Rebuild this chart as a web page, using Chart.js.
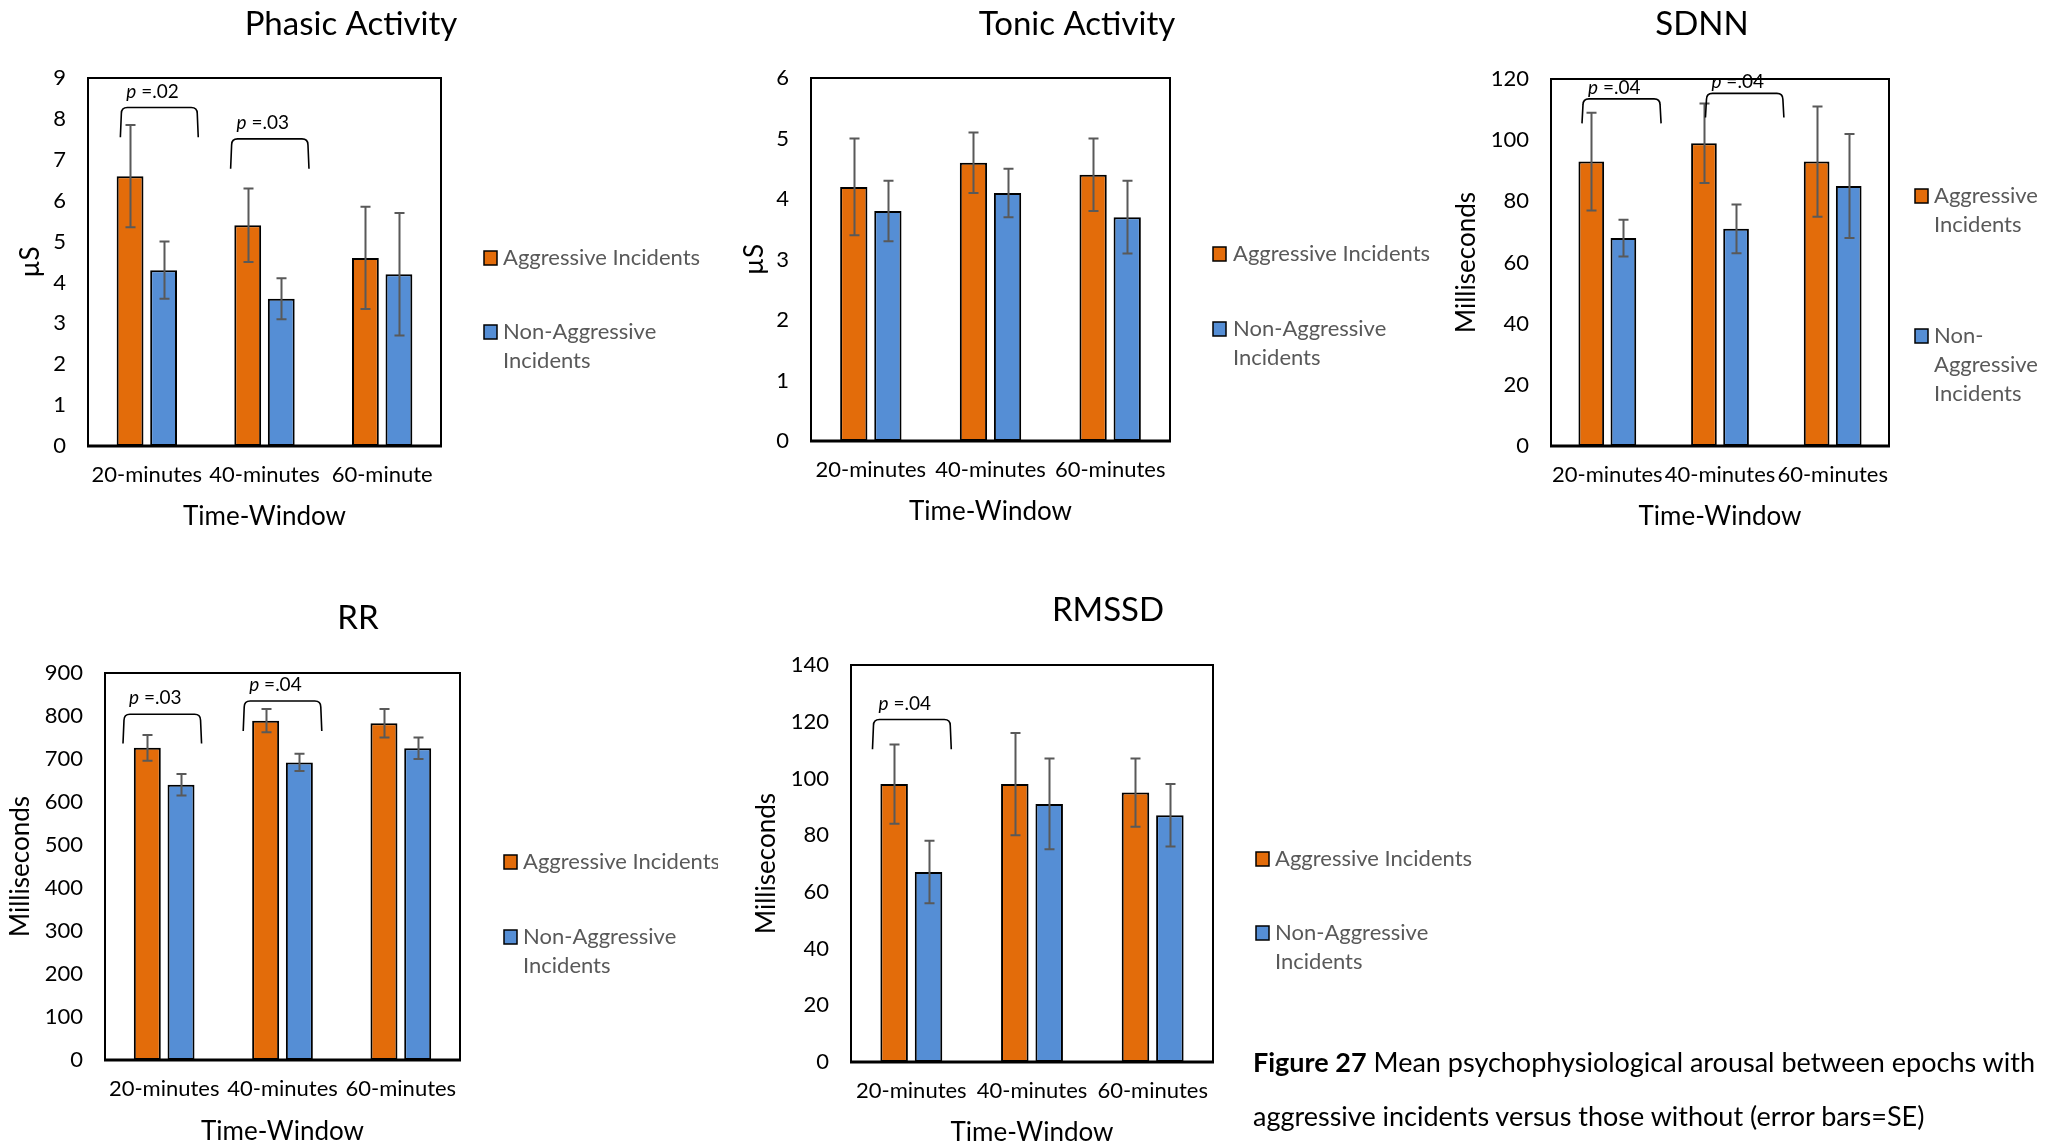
<!DOCTYPE html>
<html><head><meta charset="utf-8">
<script src="https://cdn.jsdelivr.net/npm/chart.js@4"></script>
<style>
html,body{margin:0;padding:0;background:#fff;width:2051px;height:1147px;overflow:hidden;}
canvas{position:absolute;left:0;top:0;}
#caption{position:absolute;left:1253px;top:1035px;font-family:Lato,sans-serif;font-size:27px;line-height:54px;color:#000;white-space:nowrap;}
</style></head><body>
<canvas id="c1" width="2051" height="1147"></canvas>
<canvas id="c2" width="2051" height="1147"></canvas>
<canvas id="c3" width="2051" height="1147"></canvas>
<canvas id="c4" width="2051" height="1147"></canvas>
<canvas id="c5" width="2051" height="1147"></canvas>
<div id="caption"><b>Figure 27</b> Mean psychophysiological arousal between epochs with<br>aggressive incidents versus those without (error bars=SE)</div>
<script>
// ---------- DATA ----------
const timeWindows = ['20-minutes', '40-minutes', '60-minutes'];
const timeWindowsPhasic = ['20-minutes', '40-minutes', '60-minute'];
const seriesNames = ['Aggressive Incidents', 'Non-Aggressive Incidents'];

const phasicAggressive = [6.6, 5.4, 4.6];
const phasicAggressiveSE = [1.25, 0.9, 1.25];
const phasicNonAggressive = [4.3, 3.6, 4.2];
const phasicNonAggressiveSE = [0.7, 0.5, 1.5];
const phasicYTicks = [0, 1, 2, 3, 4, 5, 6, 7, 8, 9];

const tonicAggressive = [4.2, 4.6, 4.4];
const tonicAggressiveSE = [0.8, 0.5, 0.6];
const tonicNonAggressive = [3.8, 4.1, 3.7];
const tonicNonAggressiveSE = [0.5, 0.4, 0.6];
const tonicYTicks = [0, 1, 2, 3, 4, 5, 6];

const sdnnAggressive = [93, 99, 93];
const sdnnAggressiveSE = [16, 13, 18];
const sdnnNonAggressive = [68, 71, 85];
const sdnnNonAggressiveSE = [6, 8, 17];
const sdnnYTicks = [0, 20, 40, 60, 80, 100, 120];

const rrAggressive = [726, 789, 783];
const rrAggressiveSE = [30, 27, 33];
const rrNonAggressive = [640, 692, 725];
const rrNonAggressiveSE = [25, 20, 25];
const rrYTicks = [0, 100, 200, 300, 400, 500, 600, 700, 800, 900];

const rmssdAggressive = [98, 98, 95];
const rmssdAggressiveSE = [14, 18, 12];
const rmssdNonAggressive = [67, 91, 87];
const rmssdNonAggressiveSE = [11, 16, 11];
const rmssdYTicks = [0, 20, 40, 60, 80, 100, 120, 140];

// significance annotations (category-index / value units)
const phasicBrackets = [
  {p: '.02', from: -0.225, to: 0.437, top: 8.28, end: 7.55},
  {p: '.03', from: 0.712, to: 1.378, top: 7.51, end: 6.78}
];
const sdnnBrackets = [
  {p: '.04', from: -0.225, to: 0.477, top: 113.5, end: 105.5},
  {p: '.04', from: 0.871, to: 1.567, top: 115.3, end: 107.4}
];
const rrBrackets = [
  {p: '.03', from: -0.348, to: 0.316, top: 804, end: 736},
  {p: '.04', from: 0.668, to: 1.332, top: 835, end: 765}
];
const rmssdBrackets = [
  {p: '.04', from: -0.322, to: 0.331, top: 120.8, end: 110.3}
];

// ---------- STYLE ----------
const W = 2051, H = 1147;
const ORANGE = '#E36C0A', BLUE = '#558ED5';
const FONT = 'Lato, "Open Sans", sans-serif';
const TICK_SIZE = 22, AXIS_SIZE = 26, TITLE_SIZE = 33, LEGEND_SIZE = 22, P_SIZE = 19;

function wrapText(ctx, text, maxW) {
  const tokens = text.match(/[^\s-]+-?|\s+/g);
  const lines = [];
  let cur = '';
  tokens.forEach(t => {
    if (/^\s+$/.test(t)) { cur += t; return; }
    const test = cur + t;
    if (ctx.measureText(test.trim()).width > maxW && cur.trim() !== '') {
      lines.push(cur.trim()); cur = t;
    } else cur = test;
  });
  if (cur.trim()) lines.push(cur.trim());
  return lines;
}

const decorPlugin = {
  id: 'decor',
  afterDatasetsDraw(chart, args, o) {
    const ctx = chart.ctx;
    const ys = chart.scales.y;
    ctx.save();
    ctx.strokeStyle = '#595959';
    ctx.lineWidth = 2;
    chart.data.datasets.forEach((ds, i) => {
      const meta = chart.getDatasetMeta(i);
      meta.data.forEach((bar, j) => {
        const v = ds.data[j], e = ds.se[j];
        const yHi = ys.getPixelForValue(v + e), yLo = ys.getPixelForValue(v - e);
        const x = Math.round(bar.x) + 0.5;
        ctx.beginPath();
        ctx.moveTo(x, yHi); ctx.lineTo(x, yLo);
        ctx.moveTo(x - 5, yHi); ctx.lineTo(x + 5, yHi);
        ctx.moveTo(x - 5, yLo); ctx.lineTo(x + 5, yLo);
        ctx.stroke();
      });
    });
    ctx.restore();
  },
  afterDraw(chart, args, o) {
    const ctx = chart.ctx;
    const a = chart.chartArea;
    const xs = chart.scales.x, ys = chart.scales.y;
    ctx.save();
    ctx.strokeStyle = '#000';
    ctx.lineWidth = 2;
    ctx.strokeRect(a.left, a.top, a.right - a.left, a.bottom - a.top);
    ctx.lineWidth = 3;
    ctx.beginPath(); ctx.moveTo(a.left - 1, a.bottom); ctx.lineTo(a.right + 1, a.bottom); ctx.stroke();
    ctx.fillStyle = '#000';
    ctx.font = TITLE_SIZE + 'px ' + FONT;
    ctx.textAlign = 'center'; ctx.textBaseline = 'middle';
    ctx.fillText(o.title.text, o.title.x, o.title.y);
    const pOff = o.pOffset || 16;
    (o.brackets || []).forEach(b => {
      const x1 = xs.getPixelForValue(b.from), x2 = xs.getPixelForValue(b.to);
      const yT = ys.getPixelForValue(b.top), yE = ys.getPixelForValue(b.end);
      const r = 6;
      ctx.strokeStyle = '#000'; ctx.lineWidth = 1.6;
      ctx.beginPath();
      ctx.moveTo(x1, yE);
      ctx.lineTo(x1 + 1, yT + r);
      ctx.quadraticCurveTo(x1 + 1, yT, x1 + 1 + r, yT);
      ctx.lineTo(x2 - 1 - r, yT);
      ctx.quadraticCurveTo(x2 - 1, yT, x2 - 1, yT + r);
      ctx.lineTo(x2, yE);
      ctx.stroke();
      ctx.textAlign = 'left'; ctx.textBaseline = 'middle';
      let tx = x1 + 6;
      ctx.font = 'italic ' + P_SIZE + 'px ' + FONT;
      ctx.fillText('p', tx, yT - pOff);
      tx += ctx.measureText('p').width;
      ctx.font = P_SIZE + 'px ' + FONT;
      ctx.fillText(' =' + b.p, tx, yT - pOff);
    });
    const lg = o.legend;
    if (lg.clip) { ctx.beginPath(); ctx.rect(0, 0, lg.clip, H); ctx.clip(); }
    ctx.font = LEGEND_SIZE + 'px ' + FONT;
    ctx.textAlign = 'left'; ctx.textBaseline = 'middle';
    chart.data.datasets.forEach((ds, i) => {
      const y0 = lg.ys[i];
      ctx.fillStyle = ds.backgroundColor;
      ctx.fillRect(lg.sqX, y0 - 7, 13, 14);
      ctx.strokeStyle = '#000'; ctx.lineWidth = 1.5;
      ctx.strokeRect(lg.sqX, y0 - 7, 13, 14);
      ctx.fillStyle = '#595959';
      const lines = wrapText(ctx, ds.label, lg.wrap);
      lines.forEach((ln, k) => ctx.fillText(ln, lg.textX, y0 + k * 29));
    });
    ctx.restore();
  }
};

function makeChart(id, c) {
  const lhAxis = AXIS_SIZE * 1.2;
  const padLeft = c.yTitleX - lhAxis / 2;
  const yMin = c.yTicks[0], yMax = c.yTicks[c.yTicks.length - 1];
  const step = c.yTicks[1] - c.yTicks[0];
  return new Chart(document.getElementById(id), {
    type: 'bar',
    data: {
      labels: c.labels,
      datasets: [
        {label: seriesNames[0], data: c.agg, se: c.aggSE, backgroundColor: ORANGE, borderColor: '#000', borderWidth: 2, borderSkipped: false},
        {label: seriesNames[1], data: c.non, se: c.nonSE, backgroundColor: BLUE, borderColor: '#000', borderWidth: 2, borderSkipped: false}
      ]
    },
    options: {
      responsive: false, animation: false, devicePixelRatio: 1,
      categoryPercentage: 0.57, barPercentage: 0.8,
      layout: {padding: {left: padLeft, top: c.plot.t, right: W - c.plot.r, bottom: H - (c.xTitleY + lhAxis / 2)}},
      plugins: {
        legend: {display: false}, title: {display: false}, tooltip: {enabled: false},
        decor: {title: c.title, brackets: c.brackets, legend: c.legend, pOffset: c.pOffset}
      },
      scales: {
        x: {
          type: 'category', offset: true,
          grid: {display: false, drawTicks: false}, border: {display: false},
          ticks: {color: '#000', font: {family: FONT, size: TICK_SIZE}, padding: 16, autoSkip: false, maxRotation: 0, minRotation: 0},
          title: {display: true, text: 'Time-Window', color: '#000', font: {family: FONT, size: AXIS_SIZE}, padding: 0},
          afterFit: s => { s.height = c.xTitleY + lhAxis / 2 - c.plot.b; }
        },
        y: {
          min: yMin, max: yMax,
          grid: {display: false, drawTicks: false}, border: {display: false},
          ticks: {stepSize: step, color: '#000', font: {family: FONT, size: TICK_SIZE}, padding: 22},
          title: {display: true, text: c.yTitle, color: '#000', font: {family: FONT, size: AXIS_SIZE}, padding: 0},
          afterFit: s => { s.width = c.plot.l - padLeft; }
        }
      }
    },
    plugins: [decorPlugin]
  });
}

makeChart('c1', {
  labels: timeWindowsPhasic, agg: phasicAggressive, aggSE: phasicAggressiveSE, non: phasicNonAggressive, nonSE: phasicNonAggressiveSE,
  yTicks: phasicYTicks, yTitle: 'µS', brackets: phasicBrackets,
  plot: {l: 88, t: 78, r: 441, b: 446}, yTitleX: 31, xTitleY: 517,
  title: {text: 'Phasic Activity', x: 351, y: 24},
  legend: {sqX: 484, textX: 503, ys: [258, 332], wrap: 220}
});
makeChart('c2', {
  labels: timeWindows, agg: tonicAggressive, aggSE: tonicAggressiveSE, non: tonicNonAggressive, nonSE: tonicNonAggressiveSE,
  yTicks: tonicYTicks, yTitle: 'µS', brackets: [],
  plot: {l: 811, t: 78, r: 1170, b: 441}, yTitleX: 755, xTitleY: 512,
  title: {text: 'Tonic Activity', x: 1077, y: 24},
  legend: {sqX: 1213, textX: 1233, ys: [254, 329], wrap: 220}
});
makeChart('c3', {
  labels: timeWindows, agg: sdnnAggressive, aggSE: sdnnAggressiveSE, non: sdnnNonAggressive, nonSE: sdnnNonAggressiveSE,
  yTicks: sdnnYTicks, yTitle: 'Milliseconds', brackets: sdnnBrackets, pOffset: 11,
  plot: {l: 1551, t: 79, r: 1889, b: 446}, yTitleX: 1467, xTitleY: 517,
  title: {text: 'SDNN', x: 1702, y: 24},
  legend: {sqX: 1915, textX: 1934, ys: [196, 336], wrap: 117}
});
makeChart('c4', {
  labels: timeWindows, agg: rrAggressive, aggSE: rrAggressiveSE, non: rrNonAggressive, nonSE: rrNonAggressiveSE,
  yTicks: rrYTicks, yTitle: 'Milliseconds', brackets: rrBrackets,
  plot: {l: 105, t: 673, r: 460, b: 1060}, yTitleX: 21, xTitleY: 1132,
  title: {text: 'RR', x: 358, y: 618},
  legend: {sqX: 504, textX: 523, ys: [862, 937], wrap: 230, clip: 718}
});
makeChart('c5', {
  labels: timeWindows, agg: rmssdAggressive, aggSE: rmssdAggressiveSE, non: rmssdNonAggressive, nonSE: rmssdNonAggressiveSE,
  yTicks: rmssdYTicks, yTitle: 'Milliseconds', brackets: rmssdBrackets,
  plot: {l: 851, t: 665, r: 1213, b: 1062}, yTitleX: 767, xTitleY: 1133,
  title: {text: 'RMSSD', x: 1108, y: 610},
  legend: {sqX: 1256, textX: 1275, ys: [859, 933], wrap: 220}
});
</script>
</body></html>
